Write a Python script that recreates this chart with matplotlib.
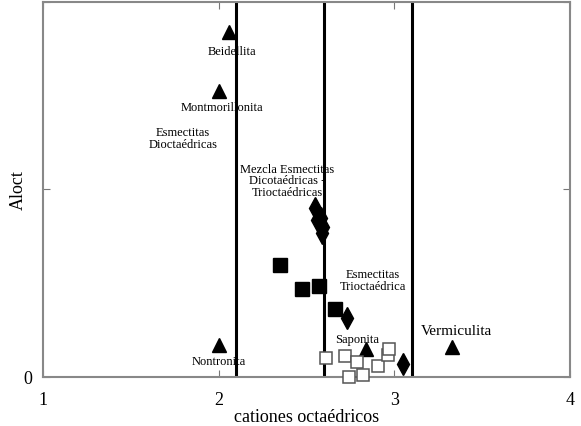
import matplotlib
matplotlib.use("Agg")
import matplotlib.pyplot as plt

# reference minerals (triangles)
ref_names = ["Beidellita", "Montmorillonita", "Nontronita", "Saponita", "Vermiculita"]
ref_x = [2.06, 2.00, 2.00, 2.84, 3.33]
ref_y = [1.84, 1.525, 0.17, 0.15, 0.16]
# where each name sits
ref_lab_x = [2.076, 2.02, 2.00, 2.787, 3.356]
ref_lab_y = [1.74, 1.44, 0.085, 0.20, 0.25]

# samples
diam_x = [2.55, 2.58, 2.56, 2.595, 2.59, 2.73, 3.05]
diam_y = [0.90, 0.85, 0.835, 0.80, 0.77, 0.315, 0.07]
fsq_x = [2.35, 2.475, 2.57, 2.66]
fsq_y = [0.595, 0.47, 0.487, 0.36]
osq_x = [2.61, 2.72, 2.79, 2.74, 2.82, 2.91, 2.965, 2.97]
osq_y = [0.10, 0.11, 0.082, 0.0, 0.012, 0.057, 0.117, 0.149]

# field boundaries
bounds = [2.1, 2.6, 3.1]

field_labels = [
    ("Esmectitas\nDioctaédricas", 1.797, 1.275),
    ("Mezcla Esmectitas\nDicotaédricas -\nTrioctaédricas", 2.39, 1.05),
    ("Esmectitas\nTrioctaédrica", 2.878, 0.517),
]

plt.rcParams["font.family"] = ["Liberation Serif", "DejaVu Serif"]

fig = plt.figure(figsize=(5.81, 4.27), dpi=100)
ax = fig.add_axes([0.074, 0.115, 0.907, 0.878])

for b in bounds:
    ax.axvline(b, color="black", lw=2.2, zorder=2)

ax.plot(ref_x, ref_y, "^", color="black", ms=10, zorder=3, clip_on=False)
ax.plot(diam_x, diam_y, "d", color="black", ms=11, zorder=3, clip_on=False)
ax.plot(fsq_x, fsq_y, "s", color="black", ms=10, zorder=3, clip_on=False)
ax.plot(osq_x, osq_y, "s", mfc="white", mec="#555555", mew=1.1, ms=9,
        zorder=4, clip_on=False)

for name, x, y in zip(ref_names, ref_lab_x, ref_lab_y):
    fs = 11 if name == "Vermiculita" else 9
    ax.text(x, y, name, ha="center", va="center", fontsize=fs, zorder=1)

for txt, x, y in field_labels:
    ax.text(x, y, txt, ha="center", va="center", fontsize=9,
            linespacing=0.95, zorder=1)

ax.set_xlim(1, 4)
ax.set_ylim(0, 2)
ax.set_xticks([1, 2, 3, 4])
ax.set_yticks([0, 1, 2])
ax.set_yticklabels(["0", "", ""])
ax.tick_params(direction="in", top=True, right=True, length=5,
               color="#777777", labelsize=13, pad=10)
ax.tick_params(axis="y", pad=8)
for s in ax.spines.values():
    s.set_color("#888888")
    s.set_linewidth(1.5)
ax.set_xlabel("cationes octaédricos", fontsize=13, labelpad=0)
ax.set_ylabel("Aloct", fontsize=13)
ax.yaxis.set_label_coords(-0.03, 0.5)

fig.savefig("out.png", dpi=100)
